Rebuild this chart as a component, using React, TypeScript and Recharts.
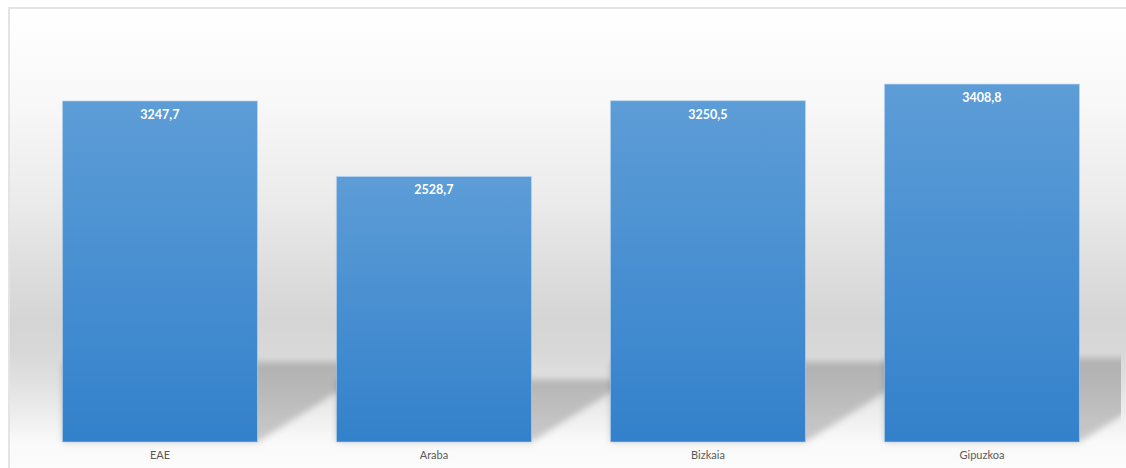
import { BarChart, Bar, XAxis, YAxis, LabelList } from "recharts";

const W = 1126;
const H = 468;
const MARGIN = { top: 22, right: 7, left: 23, bottom: 0 };

const regions = ["EAE", "Araba", "Bizkaia", "Gipuzkoa"];
const values = [3247.7, 2528.7, 3250.5, 3408.8];
const yTicks = [0, 1000, 2000, 3000, 4000];

const data = regions.map((name, i) => ({ name, value: values[i] }));

const fmt = (v: number) => v.toFixed(1).replace(".", ",");

// bar plus the skewed floor shadow behind it
function ShadowBar(props: any) {
  const { x, y, width, height } = props;
  if (!height || height <= 0) return null;
  const bottom = y + height;
  const sh = height * 0.235;
  const reach = sh / 0.625;
  const right = x + width;
  const pts = [
    [x, bottom - sh],
    [right + reach, bottom - sh],
    [right, bottom],
    [x, bottom],
  ]
    .map((p) => p.join(","))
    .join(" ");
  return (
    <g>
      <g clipPath="url(#plotClip)">
        <polygon points={pts} fill="rgba(0,0,0,0.19)" filter="url(#shBlur)" />
      </g>
      <rect
        x={x}
        y={y}
        width={width}
        height={height}
        fill="url(#barFill)"
        stroke="rgba(190,215,240,0.55)"
        strokeWidth={1}
      />
    </g>
  );
}

export default function App() {
  return (
    <div style={{ position: "absolute", left: 0, top: 0, width: W, height: H, background: "#fff", overflow: "hidden" }}>
      <div
        style={{
          position: "absolute",
          left: 8,
          top: 7,
          right: -4,
          bottom: -4,
          borderTop: "2px solid #e4e4e4",
          borderLeft: "2px solid #e4e4e4",
          background:
            "linear-gradient(to bottom, #ffffff 0px, #f8f8f8 92px, #ebebeb 192px, #dfdfdf 252px, #d5d5d5 312px, #d8d8d8 342px, #e0e0e0 372px, #ececec 402px, #f9f9f9 432px, #fcfcfc 100%)",
        }}
      />
      <div style={{ position: "absolute", left: 0, top: 0 }}>
        <BarChart width={W} height={H} data={data} margin={MARGIN} barCategoryGap="14.4%">
          <defs>
            <linearGradient id="barFill" x1="0" y1="0" x2="0" y2="1">
              <stop offset="0%" stopColor="#5d9dd7" />
              <stop offset="100%" stopColor="#3381cb" />
            </linearGradient>
            <filter id="shBlur" x="-20%" y="-20%" width="140%" height="140%">
              <feGaussianBlur stdDeviation="3" />
            </filter>
            <clipPath id="plotClip">
              <rect x={0} y={0} width={W - MARGIN.right + 2} height={H} />
            </clipPath>
          </defs>
          <XAxis
            dataKey="name"
            height={26}
            axisLine={false}
            tickLine={false}
            tickMargin={3}
            tick={{ fontSize: 11, fill: "#595959", fontFamily: "Lato, 'Open Sans', sans-serif" }}
          />
          <YAxis hide domain={[0, 4000]} ticks={yTicks} />
          <Bar dataKey="value" shape={<ShadowBar />} isAnimationActive={false}>
            <LabelList
              dataKey="value"
              position="insideTop"
              offset={9}
              formatter={(v: any) => fmt(Number(v))}
              style={{ fill: "#ffffff", fontSize: 12.5, fontWeight: 700, fontFamily: "Lato, 'Open Sans', sans-serif" }}
            />
          </Bar>
        </BarChart>
      </div>
    </div>
  );
}
